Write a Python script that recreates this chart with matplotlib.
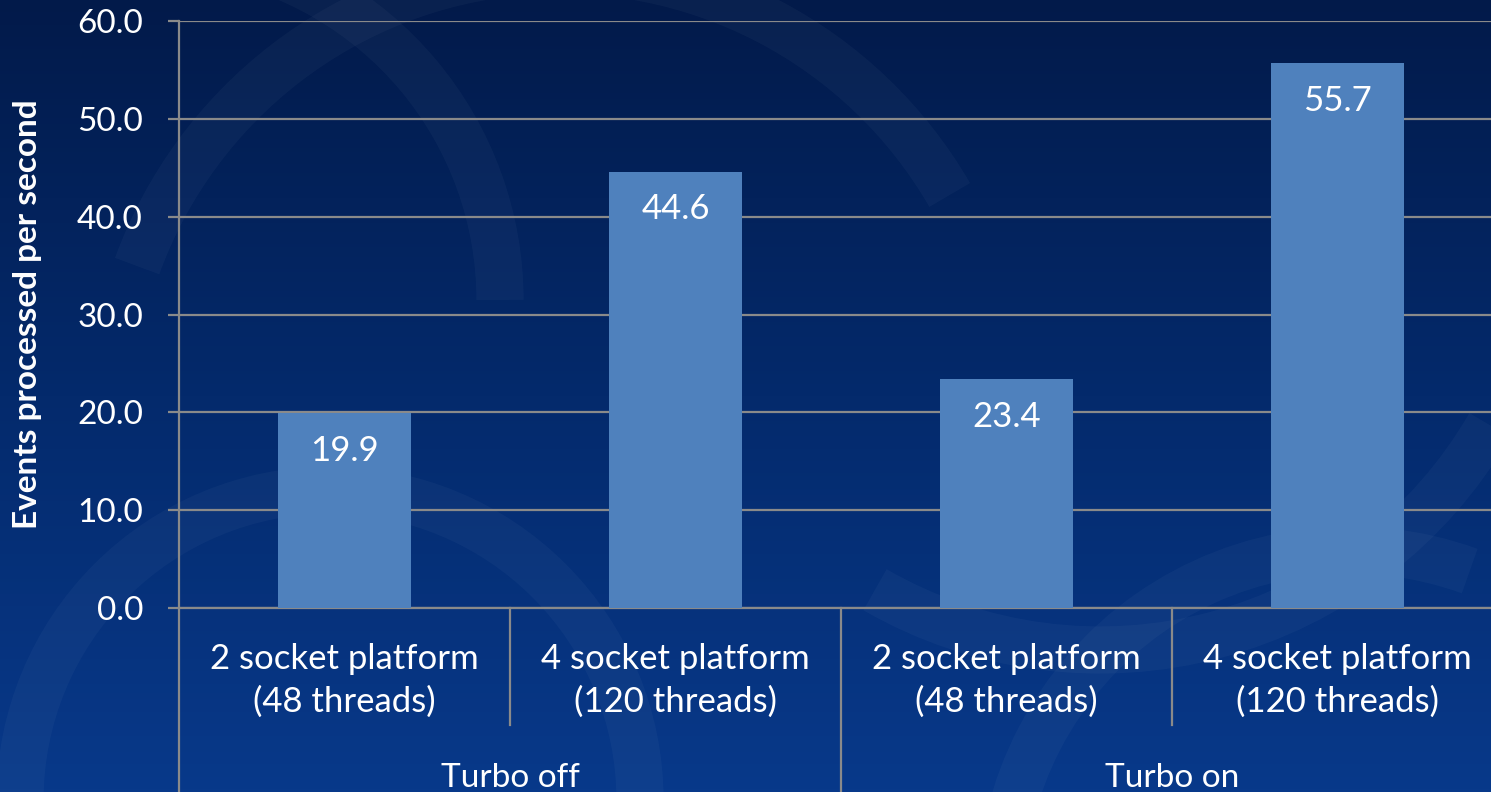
import numpy as np
import matplotlib.pyplot as plt
from matplotlib.patches import Arc
from matplotlib.colors import LinearSegmentedColormap

plt.rcParams['font.family'] = ['Lato', 'DejaVu Sans']

platforms = ["2 socket platform\n(48 threads)", "4 socket platform\n(120 threads)",
             "2 socket platform\n(48 threads)", "4 socket platform\n(120 threads)"]
groups = ["Turbo off", "Turbo on"]
events = [19.9, 44.6, 23.4, 55.7]
yticks = [0, 10, 20, 30, 40, 50, 60]

bar_color = "#4f81bd"
grid_color = "#8a8a8a"

fig = plt.figure(figsize=(14.91, 7.92), dpi=100)

# backdrop: dark navy gradient with a few faint swooshes
bg = fig.add_axes([0, 0, 1, 1])
bg.set_xlim(0, 1491)
bg.set_ylim(792, 0)
bg.axis("off")
cmap = LinearSegmentedColormap.from_list("navy", ["#021a4a", "#042a6c", "#08398a"])
grad = np.linspace(0, 1, 256).reshape(-1, 1)
bg.imshow(grad, cmap=cmap, aspect="auto", extent=[0, 1491, 792, 0], zorder=0)
swooshes = [
    (330, 800, 620, 620, 180, 360),
    (560, 420, 900, 900, 200, 330),
    (1350, 900, 700, 700, 180, 290),
    (150, 300, 700, 700, 280, 360),
    (1100, 200, 900, 900, 30, 120),
]
for cx, cy, w, h, t1, t2 in swooshes:
    bg.add_patch(Arc((cx, cy), w, h, theta1=t1, theta2=t2, color="white",
                     lw=34, alpha=0.03, zorder=1))

ax = fig.add_axes([179 / 1491, 184 / 792, 4 * 331 / 1491, 587 / 792])
ax.patch.set_alpha(0)

x = np.arange(len(events))
bars = ax.bar(x, events, width=0.4, color=bar_color, zorder=3)
for b, v in zip(bars, events):
    ax.annotate(f"{v:.1f}", (b.get_x() + b.get_width() / 2, v), xytext=(0, -27),
                textcoords="offset points", ha="center", va="center",
                color="white", fontsize=25, zorder=4)

ax.set_xlim(-0.5, 3.5)
ax.set_ylim(0, 60)
ax.set_yticks(yticks)
ax.set_yticklabels([f"{t:.1f}" for t in yticks])
ax.yaxis.grid(True, color=grid_color, lw=1.6, zorder=1)
ax.tick_params(axis="y", colors=grid_color, labelcolor="white", labelsize=24,
               length=8, width=1.6, pad=18)

ax.set_xticks(x)
ax.set_xticklabels(platforms, color="white", fontsize=25, linespacing=1.42)
ax.tick_params(axis="x", length=0, pad=25)

for s in ["top", "right"]:
    ax.spines[s].set_visible(False)
for s in ["left", "bottom"]:
    ax.spines[s].set_color(grid_color)
    ax.spines[s].set_linewidth(1.6)

# category dividers and group dividers below the axis
tr = ax.get_xaxis_transform()
for xd in [0.5, 2.5]:
    ax.plot([xd, xd], [0, -0.2], color=grid_color, lw=1.6, transform=tr, clip_on=False)
for xd in [-0.5, 1.5, 3.5]:
    ax.plot([xd, xd], [0, -0.4], color=grid_color, lw=1.6, transform=tr, clip_on=False)
for i, g in enumerate(groups):
    ax.text(2 * i + 0.5, -0.29, g, transform=tr, ha="center", va="center",
            color="white", fontsize=24)

ax.set_ylabel("Events processed per second", color="white", fontsize=24,
              fontweight="bold")
ax.yaxis.set_label_coords(-137 / (4 * 331), 0.5)

fig.savefig("out.png", dpi=100, facecolor="#021a4a")
